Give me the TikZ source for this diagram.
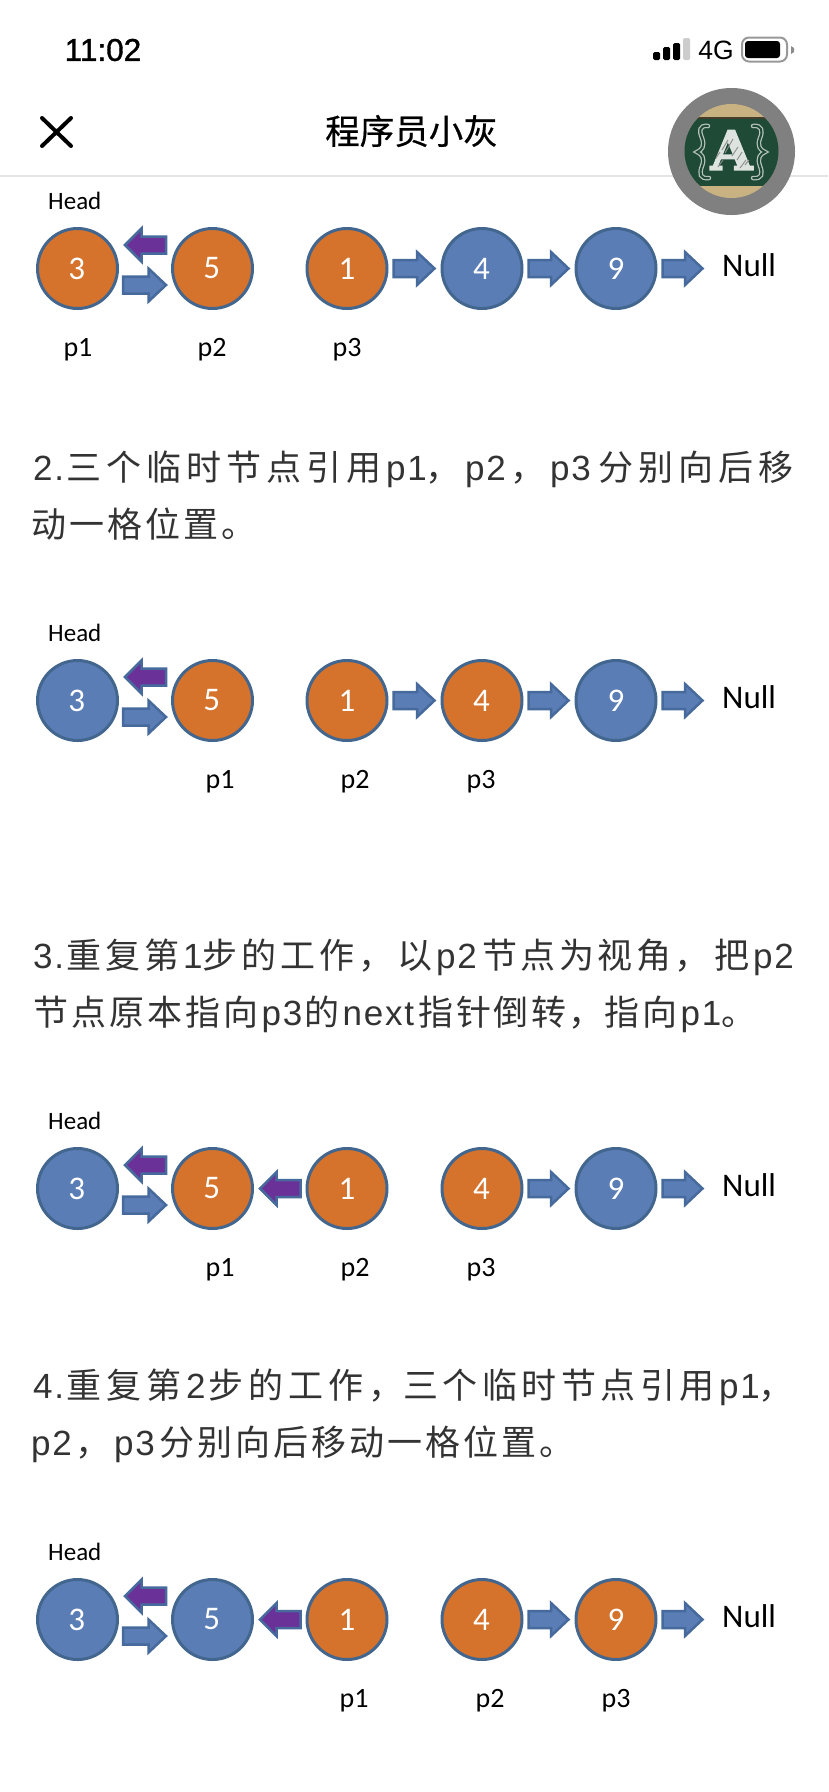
\documentclass[tikz,border=0pt]{standalone}
\usepackage{fontspec}
\usetikzlibrary{calc}
\setmainfont{Carlito}
\newfontfamily\cjkbody{Noto Sans CJK SC}
\newfontfamily\bodylatin[LetterSpace=5]{Liberation Sans}
\newcommand\lat[2]{\makebox[#1pt][l]{\fontsize{35}{34}\bodylatin #2}}
\makeatletter
\newcommand\pitched[2]{\@tfor\pitchedch:=#2\do{\makebox[#1pt][l]{\pitchedch}}}
\makeatother
\newfontfamily\cjktitle[FakeBold=0.5]{Noto Sans CJK SC}
\newfontfamily\statusfont{Liberation Sans}
\newfontfamily\clockfont[FakeBold=1.2]{Liberation Sans}
\newfontfamily\slabfont[FakeBold=3]{DejaVu Serif}
\definecolor{nodeblue}{HTML}{5A7DB6}
\definecolor{nodeorange}{HTML}{D5722B}
\definecolor{nodeedge}{HTML}{43668F}
\definecolor{arrowedge}{HTML}{466A9C}
\definecolor{backpurple}{HTML}{6A3199}
\definecolor{bodytext}{HTML}{333333}
\definecolor{wood}{HTML}{C9B282}
\definecolor{board}{HTML}{1F4A36}
\definecolor{chalk}{HTML}{DDE3DE}
\tikzset{
  x=1pt,y=-1pt,
  listnode/.style={circle,draw=nodeedge,line width=3pt,minimum size=80pt,inner sep=0pt,outer sep=0pt,
    text=white,font=\fontsize{33}{33}\selectfont},
  blue/.style={fill=nodeblue},
  orange/.style={fill=nodeorange},
  headlabel/.style={anchor=center,inner sep=0pt,font=\fontsize{25}{25}\selectfont},
  nulllabel/.style={anchor=west,inner sep=0pt,font=\fontsize{33}{33}\selectfont},
  ptr/.style={anchor=center,inner sep=0pt,font=\fontsize{28}{28}\selectfont},
  body/.style={anchor=base west,inner sep=0pt,text=bodytext,font=\fontsize{35}{35}\cjkbody},
  fwd/.style={fill=nodeblue,draw=arrowedge,line width=2.5pt,miter limit=4},
  back/.style={fill=backpurple,draw=arrowedge,line width=2.5pt,miter limit=4},
}
% block arrows between two named points
\newcommand\fwdarrow[2]{\path let \p1=(#1),\p2=(#2) in
  [fwd] (\x1+1.5pt,\y1+8.5pt) -- (\x2-20pt,\y1+8.5pt) -- (\x2-20pt,\y1+16.5pt) -- (\x2-2.5pt,\y1)
  -- (\x2-20pt,\y1-16.5pt) -- (\x2-20pt,\y1-8.5pt) -- (\x1+1.5pt,\y1-8.5pt) -- cycle;}
\newcommand\backarrow[2]{\path let \p1=(#1),\p2=(#2) in
  [back] (\x1-1.5pt,\y1+8.5pt) -- (\x2+19pt,\y1+8.5pt) -- (\x2+19pt,\y1+16.5pt) -- (\x2+2.5pt,\y1)
  -- (\x2+19pt,\y1-16.5pt) -- (\x2+19pt,\y1-8.5pt) -- (\x1-1.5pt,\y1-8.5pt) -- cycle;}
% one row of nodes: id, y, five fill styles
\newcommand\listrow[7]{
  \node[listnode,#3] (a#1) at (77.5,#2) {\kern-1.5pt 3};
  \node[listnode,#4] (b#1) at (212.5,#2) {\kern-1.5pt 5};
  \node[listnode,#5] (c#1) at (347,#2) {1};
  \node[listnode,#6] (d#1) at (482,#2) {\kern-1pt 4};
  \node[listnode,#7] (e#1) at (616,#2) {9};
  \node[headlabel] (h#1) at (74.8,#2-68) {Head};
  \node[nulllabel] (n#1) at (722,#2-3) {Null};
  \coordinate (nt#1) at (705,#2);
  \fwdarrow{$(a#1.east)+(4,16.5)$}{$(b#1.west)+(-4,16.5)$}
  \backarrow{$(b#1.west)+(-5,-23.5)$}{$(a#1.east)+(5,-23.5)$}
  \fwdarrow{$(d#1.east)+(5,0)$}{$(e#1.west)+(-5,0)$}
  \fwdarrow{$(e#1.east)+(5,0)$}{nt#1}
}
\begin{document}
\begin{tikzpicture}
\useasboundingbox (0,0) rectangle (828,1792);
\fill[white] (0,0) rectangle (828,1792);
% status bar
\node[anchor=center,inner sep=0pt,font=\fontsize{31.5}{31}\clockfont] (clock) at (103,50) {11:02};
\foreach \xa/\xb/\yt/\c in {653/660/52/black,663/670/47/black,673/680/43/black,683/690/38/black!20}
  \fill[\c,rounded corners=1.5pt] (\xa,\yt) rectangle (\xb,60);
\node[anchor=center,inner sep=0pt,font=\fontsize{26.5}{26}\statusfont] (net) at (716,50) {4G};
\draw[black!40,line width=2pt,rounded corners=7pt] (742,37.5) rectangle (787,61.5);
\fill[black,rounded corners=3pt] (745,41) rectangle (780,58);
\fill[black!45] (791,46) -- (794,48) -- (794,52) -- (791,54) -- cycle;
% nav bar
\draw[black,line width=4pt,line cap=round] (42,118) -- (71,146) (71,118) -- (42,146);
\node[anchor=center,inner sep=0pt,font=\fontsize{34.5}{34}\cjktitle] (title) at (411.5,131) {程序员小灰};
\draw[black!10,line width=1.5pt] (0,176) -- (828,176);
% avatar
\fill[black!50] (731.5,151.5) circle (63.5);
\begin{scope}
  \clip (731.5,151) circle (47);
  \fill[wood] (680,100) rectangle (785,120);
  \fill[wood] (680,183) rectangle (785,200);
  \fill[board] (680,118) rectangle (785,186);
  \fill[black!65!wood] (680,116.5) rectangle (785,119);
\end{scope}
\node[anchor=center,inner sep=0pt,text=chalk,font=\fontsize{54}{54}\slabfont\bfseries] (logo) at (731.5,150) {A};
\foreach \xa/\ya/\xb/\yb in {728/140/722/150,733/139/725/153,738/147/732/156,742/152/737/160,720/152/716/158,718/167/723/160,740/168/746/160,745/165/749/160}
  \draw[black!45,line width=.9pt] (\xa,\ya) -- (\xb,\yb);
\foreach \w/\c in {4.5/chalk!80!board,2/board}{
  \draw[\c,line width=\w pt,line cap=round] (708,126) .. controls (699,125) and (699,131) .. (702,138)
    .. controls (705,146) and (702,150) .. (697,152) .. controls (702,154) and (705,158) .. (702,166)
    .. controls (699,174) and (700,179) .. (709,178);
  \draw[\c,line width=\w pt,line cap=round] (753,126) .. controls (762,125) and (763,131) .. (760,138)
    .. controls (757,146) and (760,150) .. (765,152) .. controls (760,154) and (757,158) .. (760,166)
    .. controls (763,174) and (762,179) .. (753,178);
}
% row 1
\listrow{1}{268.5}{orange}{orange}{orange}{blue}{blue}
\fwdarrow{$(c1.east)+(5,0)$}{$(d1.west)+(-5,0)$}
\node[ptr] (p1a) at (78,350) {p1};
\node[ptr] (p2a) at (212,350) {p2};
\node[ptr] (p3a) at (347,350) {p3};
% text 2
\node[body] (t1) at (33,480) {\lat{33}{2.}\pitched{40}{三个临时节点引用}\lat{39}{p1}\pitched{40}{，}\lat{45}{p2}\pitched{40}{，}\lat{48}{p3}\pitched{40}{分别向后移}};
\node[body] (t2) at (31.5,537) {\pitched{38}{动一格位置。}};
% row 2
\listrow{2}{700.5}{blue}{orange}{orange}{orange}{blue}
\fwdarrow{$(c2.east)+(5,0)$}{$(d2.west)+(-5,0)$}
\node[ptr] (p1b) at (220,782) {p1};
\node[ptr] (p2b) at (355,782) {p2};
\node[ptr] (p3b) at (481,782) {p3};
% text 3
\node[body] (t3) at (33,968) {\lat{33}{3.}\pitched{39}{重复第}\lat{19}{1}\pitched{39}{步的工作，以}\lat{46}{p2}\pitched{38.5}{节点为视角}\pitched{39.5}{，}\pitched{39}{把}\lat{46}{p2}};
\node[body] (t4) at (33.5,1025) {\pitched{38}{节点原本指向}\lat{43}{p3}\pitched{38}{的}\lat{76}{next}\pitched{37.5}{指针倒转}\pitched{36}{，}\pitched{38}{指向}\lat{41}{p1}\pitched{38}{。}};
% row 3
\listrow{3}{1188.5}{blue}{orange}{orange}{orange}{blue}
\backarrow{$(c3.west)+(-5,0)$}{$(b3.east)+(5,0)$}
\node[ptr] (p1c) at (220,1270) {p1};
\node[ptr] (p2c) at (355,1270) {p2};
\node[ptr] (p3c) at (481,1270) {p3};
% text 4
\node[body] (t5) at (33,1398) {\lat{33}{4.}\pitched{40}{重复第}\lat{22}{2}\pitched{40}{步的工作}\pitched{35}{，}\pitched{39.5}{三个临时节点引用}\lat{39}{p1}\pitched{38}{，}};
\node[body] (t6) at (31,1455) {\lat{44}{p2}\pitched{39}{，}\lat{45}{p3}\pitched{38}{分别向后移动一格位置。}};
% row 4
\listrow{4}{1619.5}{blue}{blue}{orange}{orange}{orange}
\backarrow{$(c4.west)+(-5,0)$}{$(b4.east)+(5,0)$}
\node[ptr] (p1d) at (354,1701) {p1};
\node[ptr] (p2d) at (490,1701) {p2};
\node[ptr] (p3d) at (616,1701) {p3};
\end{tikzpicture}
\end{document}
